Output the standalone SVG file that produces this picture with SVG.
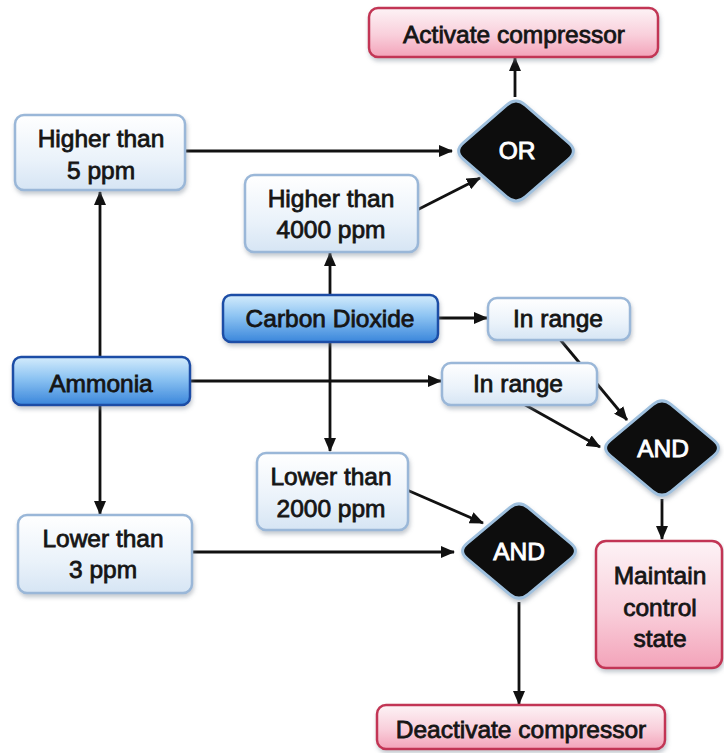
<svg xmlns="http://www.w3.org/2000/svg" width="724" height="753" viewBox="0 0 724 753">
  <defs>
    <linearGradient id="gLight" x1="0" y1="0" x2="0" y2="1">
      <stop offset="0" stop-color="#ffffff"/>
      <stop offset="0.6" stop-color="#eaf2fa"/>
      <stop offset="1" stop-color="#d6e5f4"/>
    </linearGradient>
    <linearGradient id="gBlue" x1="0" y1="0" x2="0" y2="1">
      <stop offset="0" stop-color="#d4ecfc"/>
      <stop offset="0.45" stop-color="#8cc3f2"/>
      <stop offset="1" stop-color="#3a86db"/>
    </linearGradient>
    <linearGradient id="gPink" x1="0" y1="0" x2="0" y2="1">
      <stop offset="0" stop-color="#fdf3f6"/>
      <stop offset="0.55" stop-color="#f9cfdb"/>
      <stop offset="1" stop-color="#f3a3b9"/>
    </linearGradient>
    <filter id="shadow" x="-10%" y="-10%" width="120%" height="130%">
      <feDropShadow dx="1" dy="3" stdDeviation="2" flood-color="#7a8796" flood-opacity="0.45"/>
    </filter>
    <marker id="arrow" viewBox="0 0 14 12" refX="13" refY="6" markerWidth="14" markerHeight="12" markerUnits="userSpaceOnUse" orient="auto">
      <path d="M0,0 L14,6 L0,12 Z" fill="#111"/>
    </marker>
  </defs>
  <style>
    .lbl { font-family: "Liberation Sans", Arial, sans-serif; font-size: 24.5px; fill: #151515; text-anchor: middle; stroke: #151515; stroke-width: 0.8px; }
    .gate-lbl { font-family: "Liberation Sans", Arial, sans-serif; font-size: 24.5px; fill: #ffffff; text-anchor: middle; stroke: #ffffff; stroke-width: 0.9px; }
    .light { fill: url(#gLight); stroke: #9ab7d8; stroke-width: 2.5; filter: url(#shadow); }
    .blue { fill: url(#gBlue); stroke: #1c4ea6; stroke-width: 2.5; filter: url(#shadow); }
    .pink { fill: url(#gPink); stroke: #c23654; stroke-width: 2.5; filter: url(#shadow); }
    .gate { fill: #0b0b0b; stroke: #9fc0de; stroke-width: 3; filter: url(#shadow); }
    .edge { fill: none; stroke: #111; stroke-width: 2.8; marker-end: url(#arrow); }
  </style>

  <rect width="724" height="753" fill="#ffffff"/>

  <!-- connectors -->
  <g id="connectors">
    <line class="edge" x1="100" y1="357" x2="100" y2="192"/>
    <line class="edge" x1="100" y1="405" x2="100" y2="514"/>
    <line class="edge" x1="190" y1="381" x2="441" y2="381"/>
    <line class="edge" x1="330" y1="295" x2="330" y2="253"/>
    <line class="edge" x1="330" y1="342" x2="330" y2="451"/>
    <line class="edge" x1="438" y1="318" x2="487" y2="318"/>
    <line class="edge" x1="185" y1="151" x2="452" y2="151"/>
    <line class="edge" x1="415" y1="211" x2="480" y2="178"/>
    <line class="edge" x1="515" y1="97" x2="515" y2="58"/>
    <line class="edge" x1="558" y1="337" x2="627" y2="420"/>
    <line class="edge" x1="520" y1="402" x2="600" y2="447"/>
    <line class="edge" x1="662" y1="499" x2="662" y2="539"/>
    <line class="edge" x1="407" y1="490" x2="483" y2="523"/>
    <line class="edge" x1="192" y1="552" x2="454" y2="552"/>
    <line class="edge" x1="519" y1="602" x2="519" y2="704"/>
  </g>

  <!-- nodes -->
  <g id="activate">
    <rect class="pink" x="369" y="8" width="289" height="49" rx="9"/>
    <text class="lbl" x="514" y="43">Activate compressor</text>
  </g>

  <g id="or-gate">
    <path class="gate" d="M506.7,105.1 Q516,97 525.3,105.1 L568.7,142.9 Q578,151 568.7,159.1 L525.3,196.9 Q516,205 506.7,196.9 L463.3,159.1 Q454,151 463.3,142.9 Z"/>
    <text class="gate-lbl" x="517" y="159">OR</text>
  </g>

  <g id="nh3-high">
    <rect class="light" x="15" y="115" width="170" height="75" rx="9"/>
    <text class="lbl" x="101" y="147">Higher than</text>
    <text class="lbl" x="101" y="179">5 ppm</text>
  </g>

  <g id="co2-high">
    <rect class="light" x="245" y="175" width="173" height="77" rx="9"/>
    <text class="lbl" x="331" y="207">Higher than</text>
    <text class="lbl" x="331" y="238">4000 ppm</text>
  </g>

  <g id="co2">
    <rect class="blue" x="223" y="295" width="215" height="47" rx="8"/>
    <text class="lbl" x="330" y="327">Carbon Dioxide</text>
  </g>

  <g id="ammonia">
    <rect class="blue" x="13" y="357" width="177" height="48" rx="8"/>
    <text class="lbl" x="101" y="392">Ammonia</text>
  </g>

  <g id="co2-range">
    <rect class="light" x="488" y="298" width="142" height="42" rx="9"/>
    <text class="lbl" x="558" y="327">In range</text>
  </g>

  <g id="nh3-range">
    <rect class="light" x="442" y="363" width="155" height="42" rx="9"/>
    <text class="lbl" x="518" y="392">In range</text>
  </g>

  <g id="and-maintain">
    <path class="gate" d="M652.85,404.65 Q662,397 671.15,404.65 L713.85,440.35 Q723,448 713.85,455.65 L671.15,491.35 Q662,499 652.85,491.35 L610.15,455.65 Q601,448 610.15,440.35 Z"/>
    <text class="gate-lbl" x="663" y="457">AND</text>
  </g>

  <g id="co2-low">
    <rect class="light" x="257" y="453" width="151" height="77" rx="9"/>
    <text class="lbl" x="331" y="485">Lower than</text>
    <text class="lbl" x="331" y="517">2000 ppm</text>
  </g>

  <g id="nh3-low">
    <rect class="light" x="18" y="515" width="174" height="78" rx="9"/>
    <text class="lbl" x="103" y="547">Lower than</text>
    <text class="lbl" x="103" y="578">3 ppm</text>
  </g>

  <g id="and-deactivate">
    <path class="gate" d="M509.85,507.65 Q519,500 528.15,507.65 L570.85,543.35 Q580,551 570.85,558.65 L528.15,594.35 Q519,602 509.85,594.35 L467.15,558.65 Q458,551 467.15,543.35 Z"/>
    <text class="gate-lbl" x="519" y="560">AND</text>
  </g>

  <g id="maintain">
    <rect class="pink" x="596" y="541" width="126" height="127" rx="10"/>
    <text class="lbl" x="660" y="584">Maintain</text>
    <text class="lbl" x="660" y="616">control</text>
    <text class="lbl" x="660" y="647">state</text>
  </g>

  <g id="deactivate">
    <rect class="pink" x="377" y="705" width="288" height="44" rx="9"/>
    <text class="lbl" x="521" y="738">Deactivate compressor</text>
  </g>
</svg>
